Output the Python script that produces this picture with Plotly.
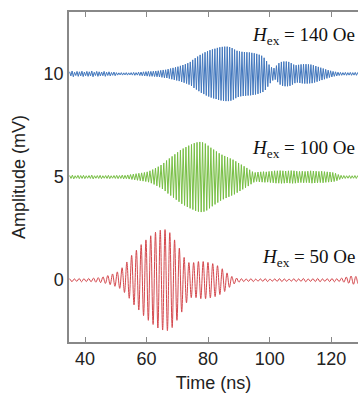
import plotly.graph_objects as go

# ---------------- data ----------------
# Each list holds the amplitude (mV) of successive oscillation cycles,
# measured from the trace's baseline; one peak and one trough per cycle.
time_start_ns = 35.0

blue_period_ns = 0.8
blue_offset_mV = 10
blue_cycle_amp = [
    0.10, 0.14, 0.08, 0.12, 0.10, 0.13, 0.09, 0.12, 0.10, 0.14,
    0.08, 0.12, 0.10, 0.09, 0.12, 0.08, 0.10, 0.07, 0.09, 0.06,
    0.05, 0.06, 0.05, 0.06, 0.05, 0.06, 0.07, 0.06, 0.08, 0.09,
    0.10, 0.11, 0.12, 0.12, 0.13, 0.14, 0.15, 0.17, 0.19, 0.20,
    0.23, 0.26, 0.29, 0.32, 0.35, 0.39, 0.43, 0.47, 0.52, 0.58,
    0.68, 0.76, 0.84, 0.92, 0.98, 1.05, 1.10, 1.15, 1.19, 1.22,
    1.26, 1.29, 1.31, 1.32, 1.32, 1.30, 1.25, 1.18, 1.12, 1.09,
    1.07, 1.06, 1.05, 1.04, 1.02, 1.00, 0.97, 0.93, 0.88, 0.78,
    0.62, 0.45, 0.32, 0.28, 0.40, 0.52, 0.58, 0.60, 0.60, 0.58,
    0.52, 0.45, 0.42, 0.44, 0.46, 0.47, 0.47, 0.46, 0.45, 0.42,
    0.38, 0.34, 0.30, 0.26, 0.22, 0.18, 0.15, 0.12, 0.10, 0.08,
    0.07, 0.06, 0.07, 0.06, 0.07, 0.06, 0.07, 0.06, 0.07, 0.06,
]

green_period_ns = 0.9
green_offset_mV = 5
green_cycle_amp = [
    0.07, 0.09, 0.06, 0.08, 0.07, 0.08, 0.06, 0.07, 0.09, 0.06,
    0.07, 0.08, 0.06, 0.07, 0.08, 0.06, 0.07, 0.08, 0.07, 0.09,
    0.08, 0.10, 0.12, 0.14, 0.16, 0.18, 0.20, 0.22, 0.25, 0.30,
    0.36, 0.43, 0.50, 0.58, 0.68, 0.80, 0.90, 1.00, 1.10, 1.20,
    1.30, 1.38, 1.45, 1.52, 1.58, 1.64, 1.68, 1.70, 1.68, 1.62,
    1.52, 1.42, 1.33, 1.24, 1.15, 1.08, 1.02, 0.96, 0.90, 0.84,
    0.76, 0.68, 0.60, 0.52, 0.44, 0.35, 0.26, 0.22, 0.24, 0.25,
    0.26, 0.25, 0.27, 0.28, 0.30, 0.30, 0.31, 0.30, 0.29, 0.30,
    0.31, 0.30, 0.28, 0.27, 0.28, 0.27, 0.28, 0.30, 0.29, 0.28,
    0.27, 0.28, 0.26, 0.25, 0.24, 0.22, 0.18, 0.12, 0.08, 0.07,
    0.06, 0.07, 0.06, 0.07, 0.06, 0.07,
]

red_period_ns = 1.55
red_offset_mV = 0
red_cycle_amp = [
    0.07, 0.06, 0.08, 0.07, 0.08, 0.10, 0.12, 0.16, 0.22, 0.30,
    0.40, 0.60, 0.88, 1.20, 1.45, 1.72, 1.95, 2.15, 2.32, 2.42,
    2.45, 2.30, 1.95, 1.55, 1.10, 0.85, 0.85, 0.90, 0.90, 0.86,
    0.80, 0.70, 0.55, 0.35, 0.18, 0.10, 0.07, 0.06, 0.07, 0.05,
    0.06, 0.07, 0.05, 0.06, 0.07, 0.06, 0.05, 0.07, 0.06, 0.08,
    0.06, 0.07, 0.08, 0.06, 0.07, 0.08, 0.07, 0.10, 0.15, 0.20,
    0.18, 0.15,
]

labels = ["<i>H</i><sub>ex</sub> = 140 Oe",
          "<i>H</i><sub>ex</sub> = 100 Oe",
          "<i>H</i><sub>ex</sub> = 50 Oe"]

x_ticks = [40, 60, 80, 100, 120]
y_ticks = [0, 5, 10]


def trace_points(period, offset, amps):
    xs, ys = [], []
    for i, a in enumerate(amps):
        t = time_start_ns + i * period
        xs += [t, t + period / 2]
        ys += [offset + a, offset - a]
    return xs, ys


fig = go.Figure()
series = [
    (blue_period_ns, blue_offset_mV, blue_cycle_amp, "#4277BD", "linear"),
    (green_period_ns, green_offset_mV, green_cycle_amp, "#78BF45", "linear"),
    (red_period_ns, red_offset_mV, red_cycle_amp, "#D4474C", "spline"),
]
for period, off, amps, col, shape in series:
    xs, ys = trace_points(period, off, amps)
    fig.add_trace(go.Scatter(x=xs, y=ys, mode="lines",
                             line=dict(color=col, width=1, shape=shape),
                             showlegend=False, hoverinfo="skip"))

label_y = [11.85, 6.35, 1.05]
for txt, yy in zip(labels, label_y):
    fig.add_annotation(x=128.4, y=yy, xref="x", yref="y", text=txt,
                       showarrow=False, xanchor="right", yanchor="middle",
                       font=dict(family="Liberation Serif", size=19, color="#111"))

axis_font = dict(family="Liberation Sans, Arial", size=18, color="#222")
fig.update_layout(
    width=358, height=394,
    margin=dict(l=69, r=0, t=12, b=52),
    paper_bgcolor="white", plot_bgcolor="white",
    font=axis_font,
    xaxis=dict(range=[34.8, 128.7], tickvals=x_ticks, ticks="inside",
               ticklen=5, tickcolor="#888", showline=True, linecolor="#888",
               linewidth=1.5, mirror="allticks", showgrid=False, zeroline=False,
               title=dict(text="Time (ns)", font=axis_font, standoff=8),
               tickfont=axis_font),
    yaxis=dict(range=[-3, 13], tickvals=y_ticks, ticks="",
               showline=True, linecolor="#888", linewidth=1.5, mirror=False,
               showgrid=False, zeroline=False,
               title=dict(text="Amplitude (mV)", font=axis_font, standoff=13),
               tickfont=axis_font),
)

fig.write_html("out.html", config={"displayModeBar": False},
               post_script="document.body.style.margin='0';")
